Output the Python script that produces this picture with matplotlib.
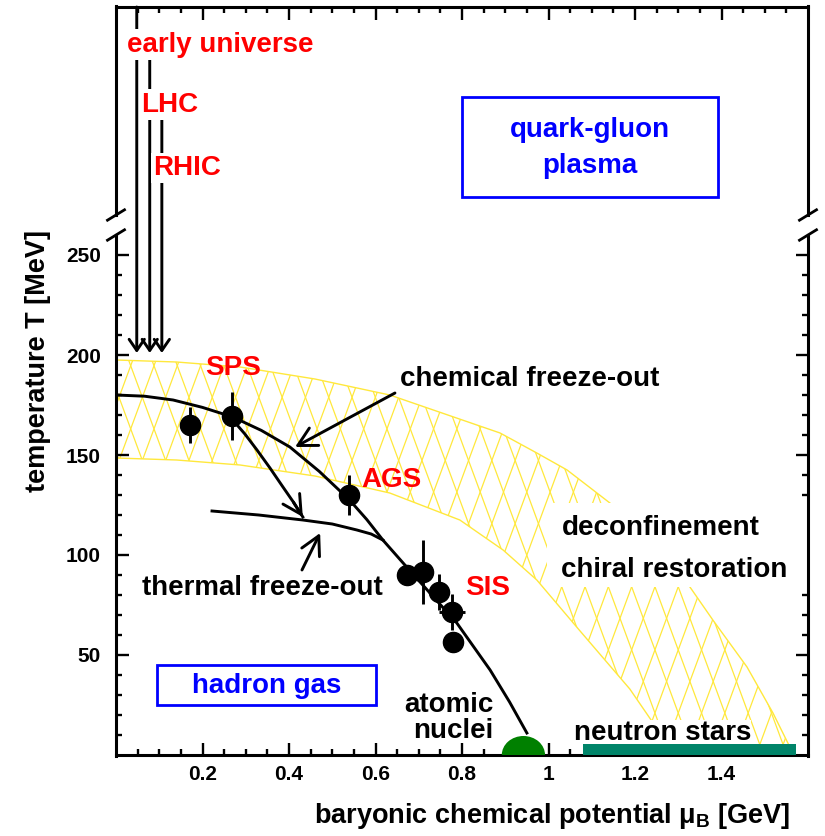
import numpy as np
import matplotlib
matplotlib.use('Agg')
import matplotlib.pyplot as plt
from matplotlib.patches import Polygon, Ellipse, Rectangle
from matplotlib.collections import LineCollection
import matplotlib.transforms as mtransforms

plt.rcParams['font.family'] = ['Liberation Sans', 'DejaVu Sans']
plt.rcParams['font.weight'] = 'bold'
plt.rcParams['mathtext.fontset'] = 'custom'
plt.rcParams['mathtext.rm'] = 'Liberation Sans'
plt.rcParams['mathtext.bf'] = 'Liberation Sans:bold'

# ---------------- data ----------------
band_outer_mu = [0.0, 0.14, 0.287, 0.46, 0.633, 0.888, 0.973, 1.043, 1.142, 1.235, 1.327, 1.38, 1.459, 1.519, 1.558, 1.57]
band_outer_T = [197.5, 196.5, 194, 188, 180, 161, 151, 142.5, 126, 107, 84, 67.5, 44, 21, 4, 0]
band_inner_mu = [0.0, 0.14, 0.287, 0.46, 0.633, 0.795, 0.895, 0.973, 1.073, 1.188, 1.28, 1.29]
band_inner_T = [148.5, 147.5, 145, 139.5, 131, 117.5, 102.5, 87.5, 62, 33, 4, 0]

chem_fo_mu = [0.0, 0.066, 0.132, 0.2, 0.27, 0.336, 0.402, 0.47, 0.54, 0.58, 0.617, 0.672, 0.73, 0.788, 0.865, 0.91, 0.95]
chem_fo_T = [180, 179.4, 177.5, 173.8, 169, 162.3, 154, 141.8, 127.5, 117.7, 107.5, 94, 80, 66, 42.5, 26.5, 11]

thermal_fo_mu = [0.222, 0.33, 0.432, 0.5, 0.557, 0.59, 0.617]
thermal_fo_T = [122, 120, 117.5, 115.5, 112.5, 110.5, 107.5]

sps_path_mu = [0.27, 0.298, 0.326, 0.356, 0.386, 0.41, 0.432]
sps_path_T = [167.5, 160.5, 152.5, 143.5, 134, 126.5, 119]

point_mu = [0.171, 0.268, 0.539, 0.673, 0.709, 0.7475, 0.776, 0.78]
point_T = [165, 169.5, 130, 90, 91.5, 81.7, 71.7, 56.7]
point_Terr = [9, 12, 10, 4, 16, 9, 9, 0]
point_muerr = [0, 0, 0, 0, 0, 0, 0.03, 0]

beam_mu = [0.048, 0.078, 0.106]
beam_T_start = [374, 349, 319]
beam_T_tip = 201
beam_labels = ['early universe', 'LHC', 'RHIC']

nuclei_mu, nuclei_halfwidth, nuclei_height = 0.942, 0.05, 9.5
neutron_star_mu = [1.08, 1.572]
neutron_star_T = 5.5

x_tick_vals = [0.2, 0.4, 0.6, 0.8, 1.0, 1.2, 1.4]
x_tick_labels = ['0.2', '0.4', '0.6', '0.8', '1', '1.2', '1.4']
y_tick_vals = [50, 100, 150, 200, 250]
y_tick_labels = ['50', '100', '150', '200', '250']

# ---------------- figure ----------------
W, H = 825, 836
fig = plt.figure(figsize=(W / 100, H / 100), dpi=100)
ax = fig.add_axes([116 / W, 81 / H, 692 / W, 748 / H])
ax.set_xlim(0, 1.6)
ax.set_ylim(0, 374)

YEL = '#ffe83c'
RED = '#ff0000'
BLUE = '#0000ff'
LW = 2.1

# band polygon + hatch
band_verts = list(zip(band_outer_mu, band_outer_T)) + list(zip(band_inner_mu[::-1], band_inner_T[::-1]))
band = Polygon(band_verts, closed=True, facecolor='none', edgecolor=YEL, lw=1.0, zorder=1.5)
ax.add_patch(band)

px_mu, px_T = 432.5, 2.0
slope = 2.71 * px_mu / px_T
spacing = 23.3 / px_mu
mu0, T0 = 1.1653, 68.35
c_plus = mu0 - T0 / slope
c_minus = mu0 + T0 / slope
segs = []
for k in range(-40, 40):
    c = c_plus + k * spacing
    segs.append([(c, 0), (c + 220 / slope, 220)])
    c = c_minus + k * spacing
    segs.append([(c, 0), (c - 220 / slope, 220)])
hatch = LineCollection(segs, colors=YEL, linewidths=0.9, zorder=1)
ax.add_collection(hatch)
hatch.set_clip_path(band)

# white box behind deconfinement text
ax.add_patch(Rectangle((0.997, 84), 0.6, 42, facecolor='white', edgecolor='none', zorder=2))

# curves
ax.plot(chem_fo_mu, chem_fo_T, color='k', lw=LW, zorder=3, solid_joinstyle='round')
ax.plot(thermal_fo_mu, thermal_fo_T, color='k', lw=LW, zorder=3, solid_joinstyle='round')
ax.plot(sps_path_mu, sps_path_T, color='k', lw=LW, zorder=3, solid_joinstyle='round')

big_head = '->,head_length=1.33,head_width=0.71'
ap = dict(arrowstyle=big_head, lw=LW, color='k', shrinkA=0, shrinkB=0, mutation_scale=10)
ax.annotate('', xy=(sps_path_mu[-1], sps_path_T[-1]), xytext=(sps_path_mu[-2], sps_path_T[-2]), arrowprops=ap, zorder=3)
ax.annotate('', xy=(0.414, 154), xytext=(0.645, 181), arrowprops=ap, zorder=3)
ax.annotate('', xy=(0.472, 111), xytext=(0.43, 92.5), arrowprops=ap, zorder=3)

# data points
ax.errorbar(point_mu, point_T, yerr=point_Terr, xerr=point_muerr, fmt='o', color='k', ms=14.5,
            elinewidth=LW, capsize=0, zorder=4)

# nuclei and neutron stars
ax.add_patch(Ellipse((nuclei_mu, 0), 2 * nuclei_halfwidth, 2 * nuclei_height, facecolor='#008000',
                     edgecolor='none', zorder=3.5))
ax.bar(neutron_star_mu[0], neutron_star_T, width=neutron_star_mu[1] - neutron_star_mu[0], align='edge',
       color='#008469', zorder=6.5)

# beam arrows
small_head = '->,head_length=0.8,head_width=0.55'
for m, t0 in zip(beam_mu, beam_T_start):
    ax.annotate('', xy=(m, beam_T_tip), xytext=(m, t0),
                arrowprops=dict(arrowstyle=small_head, lw=LW, color='k', shrinkA=0, shrinkB=0,
                                mutation_scale=10), annotation_clip=False, zorder=3)

wbox = dict(facecolor='white', edgecolor='none', boxstyle='square,pad=0.08')
fs = 20
ax.text(0.24, 351.7, beam_labels[0], color=RED, fontsize=fs, ha='center', va='baseline', bbox=wbox, zorder=6)
ax.text(0.124, 321.7, beam_labels[1], color=RED, fontsize=fs, ha='center', va='baseline', bbox=wbox, zorder=6)
ax.text(0.165, 290, beam_labels[2], color=RED, fontsize=fs, ha='center', va='baseline', bbox=wbox, zorder=6)

ax.text(0.27, 190, 'SPS', color=RED, fontsize=fs, ha='center', va='baseline', zorder=6)
ax.text(0.638, 134, 'AGS', color=RED, fontsize=fs, ha='center', va='baseline', zorder=6)
ax.text(0.86, 80, 'SIS', color=RED, fontsize=fs, ha='center', va='baseline', zorder=6)

ax.text(0.657, 184.5, 'chemical freeze-out', fontsize=fs, ha='left', va='baseline', zorder=6)
ax.text(0.0595, 80, 'thermal freeze-out', fontsize=fs, ha='left', va='baseline', zorder=6)
ax.text(1.030, 110, 'deconfinement', fontsize=fs, ha='left', va='baseline', zorder=6)
ax.text(1.030, 89, 'chiral restoration', fontsize=fs, ha='left', va='baseline', zorder=6)
ax.text(0.872, 21.5, 'atomic', fontsize=fs, ha='right', va='baseline', zorder=6)
ax.text(0.872, 8.5, 'nuclei', fontsize=fs, ha='right', va='baseline', zorder=6)
ax.text(1.264, 7.5, 'neutron stars', fontsize=fs, ha='center', va='baseline', zorder=6,
        bbox=dict(facecolor='white', edgecolor='none', boxstyle='square,pad=0.0'))

# blue boxes
ax.add_patch(Rectangle((0.0948, 25), 0.506, 20, fill=False, edgecolor=BLUE, lw=2, zorder=5))
ax.text(0.3475, 30.8, 'hadron gas', color=BLUE, fontsize=fs, ha='center', va='baseline', zorder=6)
ax.add_patch(Rectangle((0.8, 279), 0.592, 50, fill=False, edgecolor=BLUE, lw=2, zorder=5, clip_on=False))
ax.text(1.096, 309, 'quark-gluon', color=BLUE, fontsize=fs, ha='center', va='baseline', zorder=6)
ax.text(1.096, 291, 'plasma', color=BLUE, fontsize=fs, ha='center', va='baseline', zorder=6)

# ---------------- axes styling ----------------
for s in ['left', 'right']:
    ax.spines[s].set_visible(False)
for s in ['top', 'bottom']:
    ax.spines[s].set_linewidth(2.2)

tl = mtransforms.blended_transform_factory(ax.transAxes, ax.transData)
for xa in [0, 1]:
    ax.plot([xa, xa], [-0.6, 260], transform=tl, color='k', lw=2.2, clip_on=False, zorder=7)
    ax.plot([xa, xa], [270, 374.6], transform=tl, color='k', lw=2.2, clip_on=False, zorder=7)
    dx = 8.5 / 692
    for y0 in [260, 270]:
        ax.plot([xa - dx, xa + dx], [y0 - 2.6, y0 + 2.6], transform=tl, color='k', lw=2.0,
                clip_on=False, zorder=7)

ax.set_xticks(x_tick_vals)
ax.set_xticklabels(x_tick_labels)
ax.set_xticks(np.arange(0.05, 1.59, 0.05), minor=True)
ax.set_yticks(y_tick_vals)
ax.set_yticklabels(y_tick_labels)
ax.set_yticks(np.arange(10, 251, 10), minor=True)
ax.tick_params(which='both', direction='in', top=True, right=True, width=1.7)
ax.tick_params(which='major', length=9)
ax.tick_params(which='minor', length=4.5)
ax.tick_params(axis='x', labelsize=15, pad=7)
ax.tick_params(axis='y', labelsize=15, pad=11)

fig.text(38 / W, 1 - 230 / H, 'temperature T [MeV]', rotation=90, ha='center', va='top', fontsize=19.5)
fig.text(790 / W, 1 - 823 / H, r'baryonic chemical potential μ$_{\mathbf{B}}$ [GeV]', ha='right',
         va='baseline', fontsize=19.5)

fig.savefig('out.png', dpi=100)
